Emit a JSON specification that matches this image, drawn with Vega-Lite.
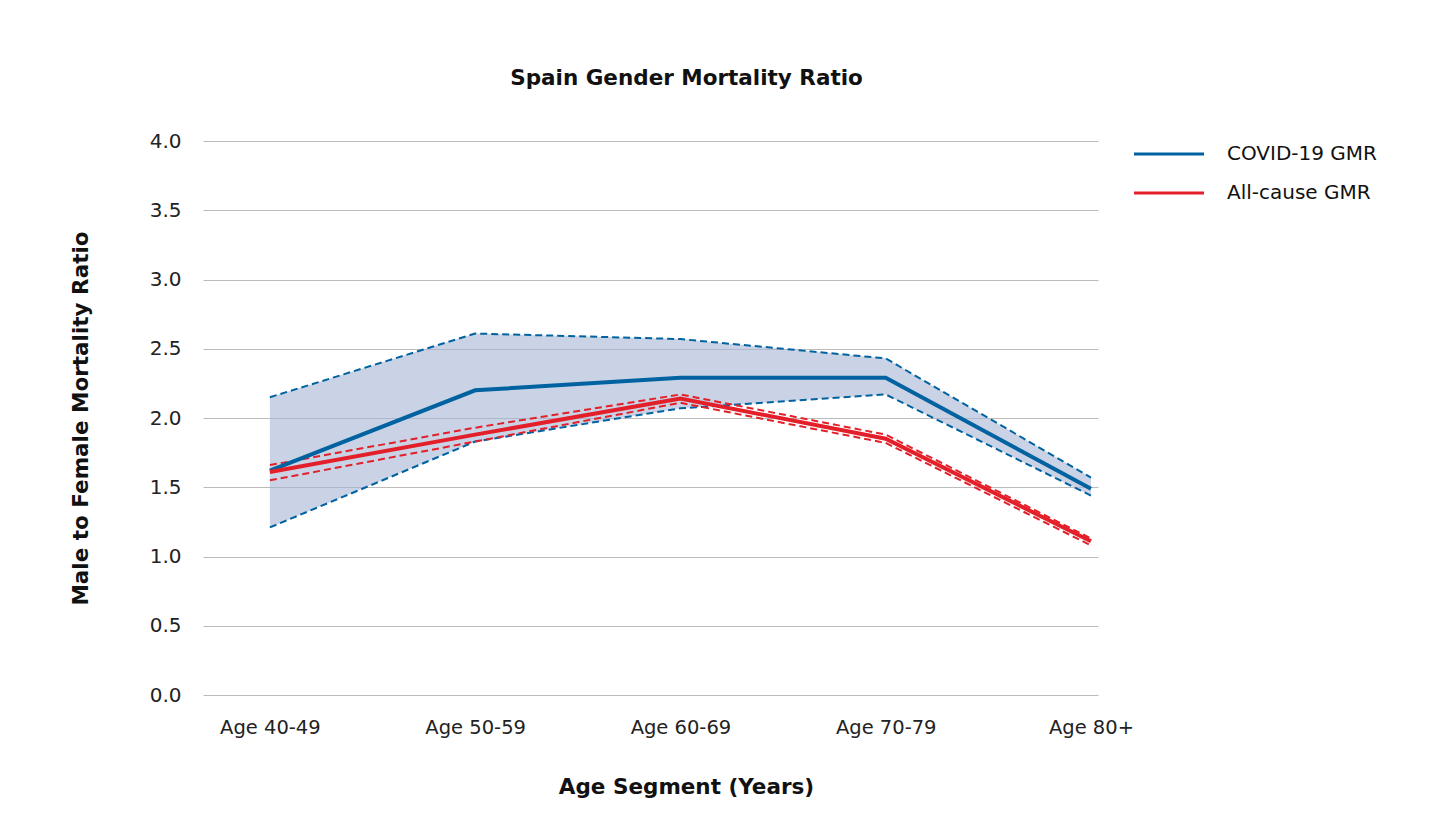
{
  "$schema": "https://vega.github.io/schema/vega-lite/v6.json",
  "width": 895,
  "height": 554,
  "autosize": {"type": "none"},
  "padding": {"left": 203, "top": 141, "right": 352, "bottom": 134},
  "background": "white",
  "config": {
    "font": "DejaVu Sans",
    "view": {"stroke": null}
  },
  "title": {
    "text": "Spain Gender Mortality Ratio",
    "fontSize": 21.5,
    "fontWeight": "bold",
    "color": "#111111",
    "offset": 42,
    "dx": 36
  },
  "data": {
    "values": [
      {"age": "Age 40-49", "series": "COVID-19 GMR", "value": 1.62, "lower": 1.21, "upper": 2.15},
      {"age": "Age 50-59", "series": "COVID-19 GMR", "value": 2.20, "lower": 1.83, "upper": 2.61},
      {"age": "Age 60-69", "series": "COVID-19 GMR", "value": 2.29, "lower": 2.07, "upper": 2.57},
      {"age": "Age 70-79", "series": "COVID-19 GMR", "value": 2.29, "lower": 2.17, "upper": 2.43},
      {"age": "Age 80+", "series": "COVID-19 GMR", "value": 1.49, "lower": 1.44, "upper": 1.57},
      {"age": "Age 40-49", "series": "All-cause GMR", "value": 1.61, "lower": 1.55, "upper": 1.66},
      {"age": "Age 50-59", "series": "All-cause GMR", "value": 1.88, "lower": 1.83, "upper": 1.93},
      {"age": "Age 60-69", "series": "All-cause GMR", "value": 2.14, "lower": 2.11, "upper": 2.17},
      {"age": "Age 70-79", "series": "All-cause GMR", "value": 1.85, "lower": 1.82, "upper": 1.88},
      {"age": "Age 80+", "series": "All-cause GMR", "value": 1.11, "lower": 1.08, "upper": 1.13}
    ]
  },
  "encoding": {
    "x": {
      "field": "age",
      "type": "ordinal",
      "sort": null,
      "scale": {"type": "point", "padding": 0.18, "align": 0.905},
      "axis": {
        "title": "Age Segment (Years)",
        "titleFontSize": 21.5,
        "titleFontWeight": "bold",
        "titleColor": "#111111",
        "titlePadding": 40,
        "titleX": 483,
        "labelFontSize": 19.5,
        "labelColor": "#222222",
        "labelAngle": 0,
        "labelPadding": 23,
        "ticks": false,
        "domain": false,
        "grid": false
      }
    }
  },
  "layer": [
    {
      "transform": [{"filter": "datum.series === 'COVID-19 GMR'"}],
      "mark": {"type": "area", "color": "#A5B6D4", "opacity": 0.6},
      "encoding": {
        "y": {
          "field": "lower",
          "type": "quantitative",
          "scale": {"domain": [0, 4]},
          "axis": {
            "title": "Male to Female Mortality Ratio",
            "titleFontSize": 21.5,
            "titleFontWeight": "bold",
            "titleColor": "#111111",
            "titlePadding": 57,
            "labelFontSize": 20,
            "labelColor": "#222222",
            "labelPadding": 22,
            "format": ".1f",
            "values": [0, 0.5, 1, 1.5, 2, 2.5, 3, 3.5, 4],
            "ticks": false,
            "domain": false,
            "grid": true,
            "gridColor": "#BBBBBB",
            "gridWidth": 1.2
          }
        },
        "y2": {"field": "upper"}
      }
    },
    {
      "transform": [{"fold": ["lower", "upper"], "as": ["bound", "bv"]}],
      "mark": {"type": "line", "strokeWidth": 2, "strokeDash": [7, 4]},
      "encoding": {
        "y": {"field": "bv", "type": "quantitative"},
        "detail": {"field": "bound"},
        "color": {
          "field": "series",
          "type": "nominal",
          "scale": {"domain": ["COVID-19 GMR", "All-cause GMR"], "range": ["#0062A0", "#E3202A"]},
          "legend": {
            "title": null,
            "orient": "none",
            "legendX": 952,
            "legendY": -1,
            "symbolType": "M-2.8,0H2.8",
            "symbolSize": 625,
            "symbolStrokeWidth": 3,
            "symbolDash": [1, 0],
            "labelFontSize": 20,
            "labelColor": "#111111",
            "labelOffset": 44,
            "rowPadding": 15
          }
        }
      }
    },
    {
      "transform": [{"filter": "datum.series === 'COVID-19 GMR'"}],
      "mark": {"type": "line", "strokeWidth": 4},
      "encoding": {
        "y": {"field": "value", "type": "quantitative"},
        "color": {"field": "series", "type": "nominal"}
      }
    },
    {
      "transform": [{"filter": "datum.series === 'All-cause GMR'"}],
      "mark": {"type": "line", "strokeWidth": 4},
      "encoding": {
        "y": {"field": "value", "type": "quantitative"},
        "color": {"field": "series", "type": "nominal"}
      }
    }
  ],
  "resolve": {"legend": {"color": "shared"}}
}
